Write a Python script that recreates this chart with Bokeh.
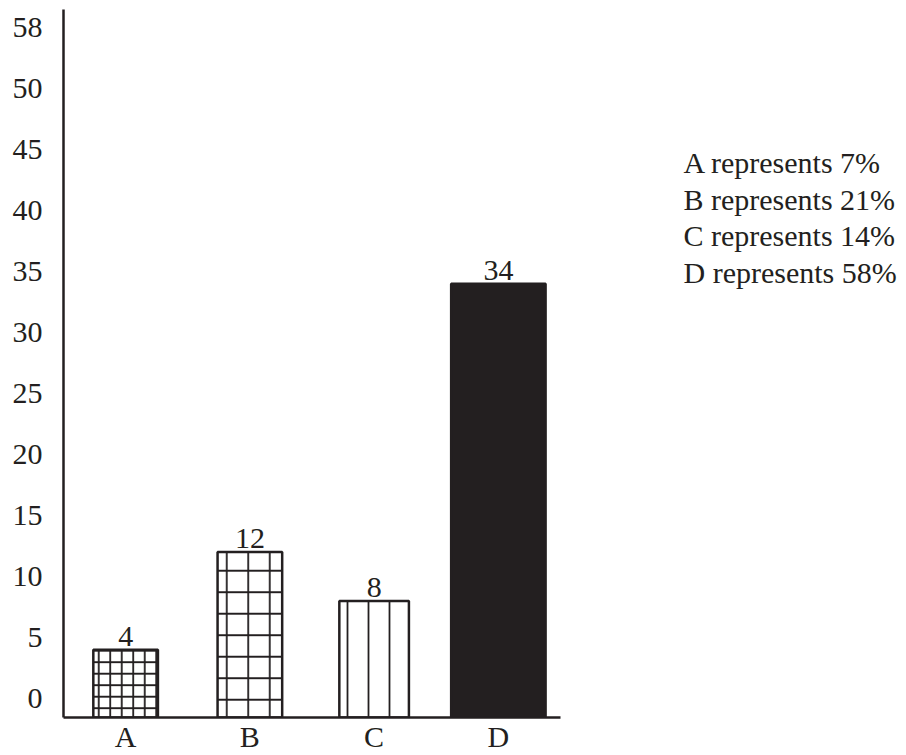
from bokeh.plotting import figure
from bokeh.models import FixedTicker, Range1d, FactorRange, ColumnDataSource
from bokeh.layouts import row
from bokeh.embed import file_html
from bokeh.resources import INLINE
from bokeh.core.properties import value

# ---- data ----
categories = ["A", "B", "C", "D"]
counts = [4, 12, 8, 34]
count_labels = ["4", "12", "8", "34"]
tick_values = [0, 5, 10, 15, 20, 25, 30, 35, 40, 45, 50, 55]
tick_labels = ["0", "5", "10", "15", "20", "25", "30", "35", "40", "45", "50", "58"]
legend_lines = ["A represents 7%", "B represents 21%", "C represents 14%", "D represents 58%"]

# ---- styles ----
INK = "#231f20"
FONT = "Liberation Serif"
FS = "30px"
bar_widths = [0.52, 0.52, 0.56, 0.76]
hatch_patterns = ["+", "+", "|", " "]
hatch_scales = [11.5, 21.5, 21, 12]
fill_colors = ["white", "white", "white", INK]

Y_START, Y_END = -1.56, 56.48

src = ColumnDataSource(dict(
    x=categories, top=counts, bottom=[Y_START] * len(counts), w=bar_widths,
    hp=hatch_patterns, hs=hatch_scales, fc=fill_colors, lab=count_labels,
))

p = figure(frame_width=497, frame_height=708, x_range=FactorRange(*categories),
           y_range=Range1d(Y_START, Y_END), output_backend="svg",
           toolbar_location=None, min_border_left=63, min_border_right=18,
           min_border_top=9, min_border_bottom=38, title=None)
p.outline_line_color = None
p.xgrid.grid_line_color = None
p.ygrid.grid_line_color = None
p.x_range.range_padding = 0

p.vbar(x="x", top="top", bottom="bottom", width="w", source=src,
       fill_color="fc", line_color=INK, line_width=2.5,
       hatch_pattern="hp", hatch_scale="hs", hatch_color=INK, hatch_weight=1.8)

p.text(x="x", y="top", text="lab", source=src, text_align="center",
       text_baseline="bottom", y_offset=-4, text_color=INK,
       text_font=value(FONT), text_font_size=FS)

for ax in (p.xaxis[0], p.yaxis[0]):
    ax.axis_line_color = INK
    ax.axis_line_width = 2.5
    ax.major_tick_line_color = None
    ax.minor_tick_line_color = None
    ax.major_tick_out = 0
    ax.major_tick_in = 0
    ax.major_label_text_font = FONT
    ax.major_label_text_font_size = FS
    ax.major_label_text_color = INK

p.yaxis.ticker = FixedTicker(ticks=tick_values)
p.yaxis.major_label_overrides = {v: l for v, l in zip(tick_values, tick_labels)}
p.yaxis.major_label_standoff = 21
p.xaxis.major_label_standoff = 2

# ---- right-hand key text ----
KEY_TOP = 153.0
KEY_STEP = 36.5
q = figure(frame_width=328, frame_height=755, x_range=Range1d(-105, 223),
           y_range=Range1d((755 - KEY_TOP) / KEY_STEP, -KEY_TOP / KEY_STEP),
           output_backend="svg", toolbar_location=None,
           x_axis_type=None, y_axis_type=None, min_border=0, title=None)
q.outline_line_color = None
q.xgrid.grid_line_color = None
q.ygrid.grid_line_color = None
q.text(x=[0] * len(legend_lines), y=list(range(len(legend_lines))), text=legend_lines,
       text_align="left", text_baseline="middle", text_color=INK,
       text_font=value(FONT), text_font_size=FS)

layout = row(p, q)
open("out.html", "w").write(file_html(layout, INLINE))
